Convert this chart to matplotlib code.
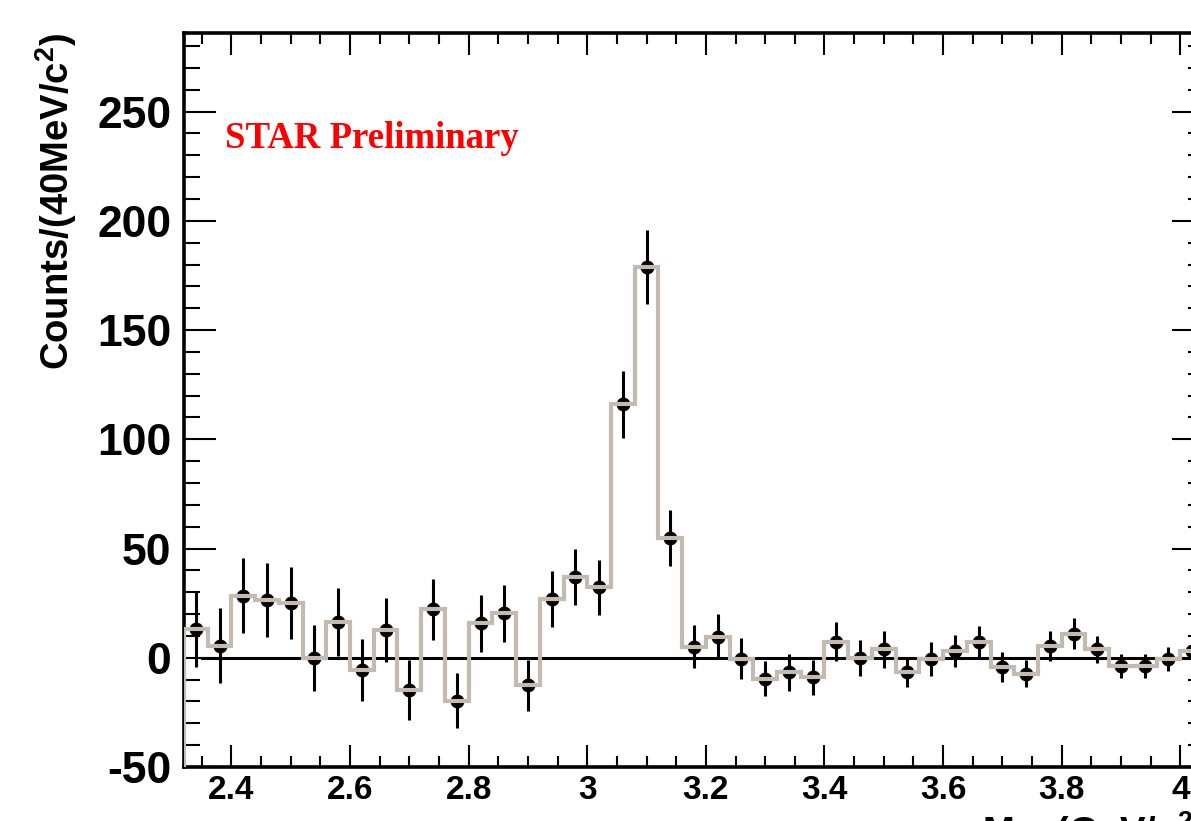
import numpy as np
import matplotlib
matplotlib.use("Agg")
import matplotlib.pyplot as plt
from matplotlib.ticker import MultipleLocator, FuncFormatter

plt.rcParams['font.family'] = ['Liberation Sans', 'DejaVu Sans']
plt.rcParams['axes.unicode_minus'] = False
plt.rcParams['mathtext.fontset'] = 'custom'
plt.rcParams['mathtext.rm'] = 'Liberation Sans:bold'
plt.rcParams['mathtext.it'] = 'Liberation Sans:bold'
plt.rcParams['mathtext.bf'] = 'Liberation Sans:bold'

# ---- data ----
bin_low = 2.32
bin_width = 0.04
counts = [13.0, 5.5, 28.5, 26.3, 25.2, 0.0, 16.5, -5.7, 12.7, -14.8,
          22.2, -19.7, 15.7, 20.3, -12.5, 26.8, 36.9, 32.3, 116.0, 179.0,
          55.0, 5.0, 9.6, -0.5, -9.5, -6.7, -9.0, 7.3, 0.0, 3.8,
          -6.4, -0.5, 3.0, 7.3, -4.1, -7.2, 5.3, 11.1, 3.8, -3.8,
          -3.8, -0.6, 3.0]
errors = [17.4, 17.2, 17.3, 16.9, 16.4, 15.1, 15.6, 14.3, 14.5, 13.6,
          14.0, 12.6, 13.1, 13.1, 11.7, 12.8, 12.8, 12.6, 15.5, 17.0,
          12.8, 9.9, 10.3, 9.4, 8.2, 8.4, 8.2, 9.0, 8.3, 8.5,
          6.9, 7.7, 7.4, 7.4, 6.9, 6.3, 6.9, 7.1, 6.3, 5.5,
          5.3, 5.6, 5.0]
x_ticks = [2.4, 2.6, 2.8, 3.0, 3.2, 3.4, 3.6, 3.8, 4.0]
y_ticks = [-50, 0, 50, 100, 150, 200, 250]
zero_line_start = 2.35

n = len(counts)
edges = bin_low + bin_width * np.arange(n + 1)
centers = 0.5 * (edges[:-1] + edges[1:])
counts = np.array(counts)
errors = np.array(errors)

W, H = 1191, 821
fig = plt.figure(figsize=(W / 100, H / 100), dpi=100)
ax_l, ax_r, ax_t, ax_b = 184, 1204, 33, 767
ax = fig.add_axes([ax_l / W, (H - ax_b) / H, (ax_r - ax_l) / W, (ax_b - ax_t) / H])

xlim = (2.32, 4.04)
ylim = (-50, 286)
ax.set_xlim(*xlim)
ax.set_ylim(*ylim)

grey = '#c3bbb2'
ax.errorbar(centers, counts, yerr=errors, fmt='o', color='black',
            markersize=9, elinewidth=2.2, capsize=0, zorder=3)
ax.stairs(counts, edges, baseline=ylim[0], color=grey, linewidth=3.0, zorder=4)
ax.plot([zero_line_start, xlim[1]], [0, 0], color='black', linewidth=2.2, zorder=2)

for s in ax.spines.values():
    s.set_linewidth(2.6)

ax.set_xticks(x_ticks)
ax.set_yticks(y_ticks)
ax.xaxis.set_minor_locator(MultipleLocator(0.05))
ax.yaxis.set_minor_locator(MultipleLocator(10))
ax.xaxis.set_major_formatter(FuncFormatter(lambda v, p: f"{v:g}"))
ax.yaxis.set_major_formatter(FuncFormatter(lambda v, p: f"{v:g}"))
ax.tick_params(axis='x', which='major', direction='in', length=16, width=1.5,
               top=True, bottom=True, labelsize=24, pad=6)
ax.tick_params(axis='x', which='minor', direction='in', length=8, width=1.5,
               top=True, bottom=True)
ax.tick_params(axis='y', which='major', direction='in', length=23, width=1.5,
               left=True, right=True, labelsize=32, pad=9)
ax.tick_params(axis='y', which='minor', direction='in', length=11.5, width=1.5,
               left=True, right=True)
for lab in ax.get_xticklabels() + ax.get_yticklabels():
    lab.set_fontweight('bold')

ax.text(0.0402, 0.843, 'STAR Preliminary', transform=ax.transAxes,
        color='#ff0000', fontsize=26.5, fontweight='bold',
        family=['Liberation Serif', 'DejaVu Serif'], va='baseline', ha='left')

fig.text(56 / W, 1 - 33 / H, r'Counts/(40MeV/c$^{2}$)', rotation=90,
         ha='center', va='top', fontsize=27.5, fontweight='bold')
fig.text(982 / W, (H - 845) / H, r'M$_{ee}$ (GeV/c$^{2}$)',
         ha='left', va='baseline', fontsize=27.5, fontweight='bold')

fig.savefig('out.png', dpi=100)
